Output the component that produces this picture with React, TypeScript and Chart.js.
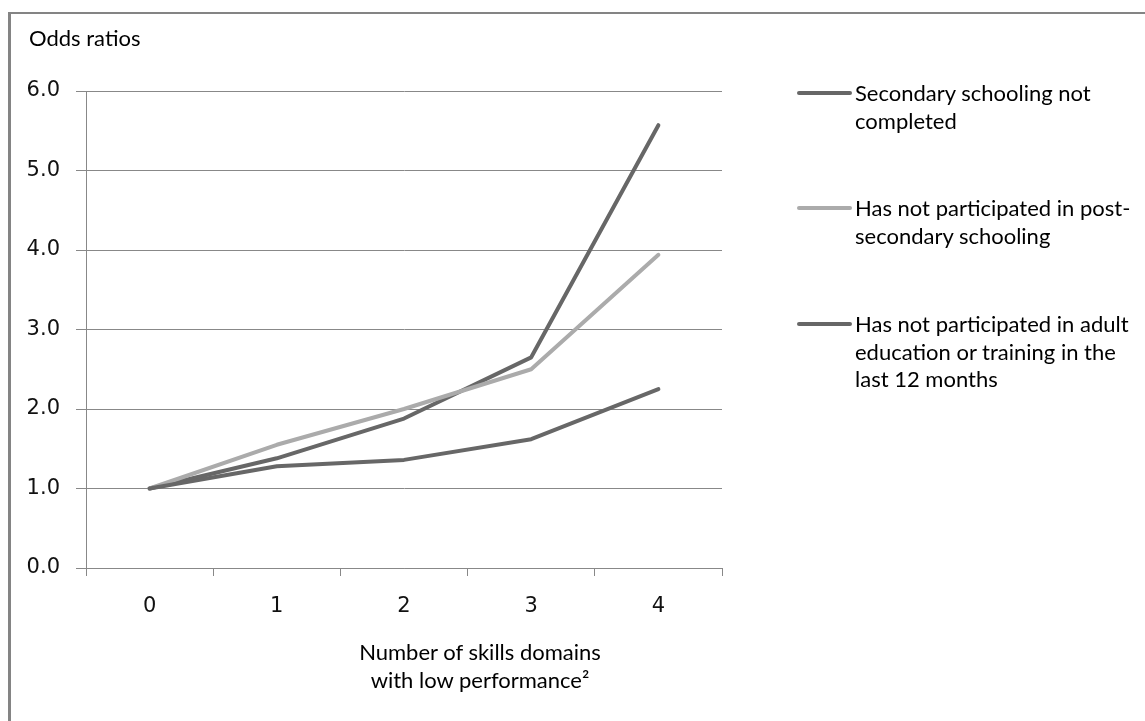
import React, { useEffect, useRef } from "react";
import { Chart, registerables } from "chart.js";

Chart.register(...registerables);

const categories = ["0", "1", "2", "3", "4"];
const seriesLabels = [
  "Secondary schooling not completed",
  "Has not participated in post-secondary schooling",
  "Has not participated in adult education or training in the last 12 months",
];
const legendLines = [
  ["Secondary schooling not", "completed"],
  ["Has not participated in post-", "secondary schooling"],
  ["Has not participated in adult", "education or training in the", "last 12 months"],
];
const secondaryNotCompleted = [1.0, 1.38, 1.88, 2.65, 5.57];
const noPostSecondary = [1.0, 1.55, 2.0, 2.5, 3.94];
const noAdultEducation = [1.0, 1.28, 1.36, 1.62, 2.25];
const yMin = 0;
const yMax = 6;
const yStep = 1;
const yAxisTitle = "Odds ratios";
const xAxisTitle = ["Number of skills domains", "with low performance\u00B2"];

const DARK = "#676767";
const LIGHT = "#ababab";
const seriesColors = [DARK, LIGHT, DARK];
const legendY = [93, 208, 324];

const CALIBRI = "Lato, 'Open Sans', sans-serif";

export default function App() {
  const canvasRef = useRef<HTMLCanvasElement | null>(null);

  useEffect(() => {
    document.body.style.margin = "8px";
    document.body.style.background = "#fff";
    const canvas = canvasRef.current;
    if (!canvas) return;
    const values = [secondaryNotCompleted, noPostSecondary, noAdultEducation];
    const chart = new Chart(canvas, {
      type: "line",
      data: {
        labels: categories,
        datasets: values.map((v, i) => ({
          label: seriesLabels[i],
          data: v,
          borderColor: seriesColors[i],
          backgroundColor: seriesColors[i],
          borderWidth: 4,
          pointRadius: 0,
          pointHoverRadius: 0,
          tension: 0,
          fill: false,
          borderCapStyle: "round" as const,
          borderJoinStyle: "round" as const,
          order: 3 - i,
        })),
      },
      options: {
        responsive: false,
        animation: false,
        events: [],
        layout: { padding: { left: 0, top: 91, right: 423, bottom: 0 } },
        plugins: {
          legend: { display: false },
          tooltip: { enabled: false },
          title: { display: false },
        },
        scales: {
          x: {
            type: "category",
            offset: true,
            afterFit: (s: any) => {
              s.height = 153;
            },
            grid: {
              offset: true,
              drawOnChartArea: false,
              drawTicks: true,
              tickLength: 8,
              color: "#888",
              lineWidth: 1,
            },
            border: { display: true, color: "#888", width: 1 },
            ticks: {
              color: "#111",
              padding: 18,
              font: { family: "'DejaVu Sans'", size: 21 },
              maxRotation: 0,
            },
          },
          y: {
            min: yMin,
            max: yMax,
            afterFit: (s: any) => {
              s.width = 86;
            },
            grid: {
              color: "#888",
              lineWidth: 1,
              drawTicks: true,
              tickLength: 10,
            },
            border: { display: true, color: "#888", width: 1 },
            ticks: {
              stepSize: yStep,
              color: "#111",
              padding: 16,
              font: { family: "'DejaVu Sans'", size: 21 },
              callback: (v: any) => Number(v).toFixed(1),
            },
          },
        },
      },
    });
    return () => chart.destroy();
  }, []);

  return (
    <div>
      <div
        style={{
          position: "absolute",
          left: 8,
          top: 12,
          width: 1137,
          height: 709,
          boxSizing: "border-box",
          borderTop: "2px solid #848484",
          borderLeft: "3px solid #848484",
        }}
      />
      <canvas
        ref={canvasRef}
        width={1145}
        height={721}
        style={{ position: "absolute", left: 0, top: 0, width: 1145, height: 721 }}
      />
      <div
        style={{
          position: "absolute",
          left: 29,
          top: 24,
          fontFamily: CALIBRI,
          fontSize: 22,
          lineHeight: "28px",
          color: "#000",
          whiteSpace: "nowrap",
        }}
      >
        {yAxisTitle}
      </div>
      <div
        style={{
          position: "absolute",
          left: 280,
          width: 400,
          top: 638,
          textAlign: "center",
          fontFamily: CALIBRI,
          fontSize: 22,
          lineHeight: "28px",
          color: "#000",
          whiteSpace: "nowrap",
        }}
      >
        {xAxisTitle.map((t, i) => (
          <div key={i}>{t}</div>
        ))}
      </div>
      {legendLines.map((lines, i) => (
        <div key={i}>
          <div
            style={{
              position: "absolute",
              left: 797,
              top: legendY[i] - 2,
              width: 55,
              height: 4,
              borderRadius: 2,
              background: seriesColors[i],
            }}
          />
          <div
            style={{
              position: "absolute",
              left: 855,
              top: legendY[i] - 14,
              fontFamily: CALIBRI,
              fontSize: 22,
              lineHeight: "27.7px",
              color: "#000",
              whiteSpace: "nowrap",
            }}
          >
            {lines.map((t, j) => (
              <div key={j}>{t}</div>
            ))}
          </div>
        </div>
      ))}
    </div>
  );
}
